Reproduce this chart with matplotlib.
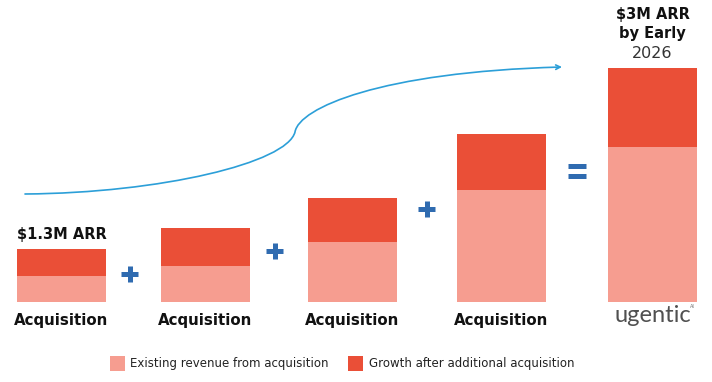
import matplotlib
matplotlib.use("Agg")
import matplotlib.pyplot as plt
from matplotlib.path import Path
from matplotlib.patches import FancyArrowPatch, Rectangle

# ── data ($M, last bar = $3M) ───────────────────────────────────────
stages   = ["Acquisition", "Acquisition", "Acquisition", "Acquisition", "ugentic"]
existing = [0.33, 0.46, 0.77, 1.44, 1.99]
growth   = [0.35, 0.49, 0.56, 0.71, 1.01]
top_notes = ["$1.3M ARR", "", "", "", "$3M ARR\nby Early"]
legend_labels = ["Existing revenue from acquisition",
                 "Growth after additional acquisition"]

# ── layout (pixels, origin top-left) ───────────────────────────────
W, H     = 712, 382
BASE_PX  = 302          # bar bottom
PX_PER_M = 78.0
bar_x    = [61.5, 205.5, 352, 501, 652.5]
bar_w    = 89
plus_xy  = [(129.5, 273.5), (274.5, 250.5), (426.5, 209)]
eq_xy    = (577, 170.5)

LIGHT = "#F69D90"
DARK  = "#EA4F37"
BLUE  = "#2F6BB0"
CURVE = "#2C9FD8"
TXT   = "#111111"

fig = plt.figure(figsize=(W / 100, H / 100), dpi=100)
fig.patch.set_facecolor("white")

# bars axes: x in pixels, y in $M
ax = fig.add_axes([0, 0, 1, 1])
ax.set_xlim(0, W)
ax.set_ylim(-(H - BASE_PX) / PX_PER_M, BASE_PX / PX_PER_M)
ax.axis("off")

ax.bar(bar_x, existing, width=bar_w, color=LIGHT, linewidth=0)
ax.bar(bar_x, growth, width=bar_w, bottom=existing, color=DARK, linewidth=0)

# overlay axes in pixel coords for the annotations
ov = fig.add_axes([0, 0, 1, 1], facecolor="none")
ov.set_xlim(0, W)
ov.set_ylim(H, 0)
ov.axis("off")

bold = dict(fontfamily="DejaVu Sans", fontweight="bold", color=TXT)

for i, lab in enumerate(stages[:-1]):
    ov.text(bar_x[i], 320, lab, ha="center", va="center", fontsize=10.8, **bold)

ov.text(bar_x[0], 234, top_notes[0], ha="center", va="center", fontsize=10.5, **bold)
ov.text(bar_x[4], 24, top_notes[4], ha="center", va="center", fontsize=10.5,
        linespacing=1.35, **bold)
ov.text(bar_x[4], 54, "2026", ha="center", va="center", fontsize=11.5,
        fontfamily="DejaVu Sans", color="#333333")

# logo text under last bar
ov.text(bar_x[4], 316, stages[4], ha="center", va="center", fontsize=17,
        fontfamily="Lato", fontweight="normal", color="#505050")
ov.text(692, 306, "AI", ha="center", va="center", fontsize=3.5, color="#777777")

# plus / equals signs
for x, y in plus_xy:
    ov.plot([x - 8.5, x + 8.5], [y, y], color=BLUE, lw=3.6, solid_capstyle="butt")
    ov.plot([x, x], [y - 8, y + 8], color=BLUE, lw=3.6, solid_capstyle="butt")
ex, ey = eq_xy
for dy in (-5, 5):
    ov.plot([ex - 9, ex + 9], [ey + dy, ey + dy], color=BLUE, lw=3.6,
            solid_capstyle="butt")

# growth curve
verts = [(25, 194), (160, 193), (287, 163), (295, 132),
         (299, 108), (380, 72), (562, 67)]
codes = [Path.MOVETO] + [Path.CURVE4] * 6
arrow = FancyArrowPatch(path=Path(verts, codes), arrowstyle="->",
                        mutation_scale=8, color=CURVE, lw=1.2)
ov.add_patch(arrow)

# legend
leg_font = dict(fontfamily="DejaVu Sans", fontsize=8.5, color="#222222",
                va="center", ha="left")
ov.add_patch(Rectangle((110, 356), 15, 15, color=LIGHT, lw=0))
ov.text(130, 363.5, legend_labels[0], **leg_font)
ov.add_patch(Rectangle((348, 356), 15, 15, color=DARK, lw=0))
ov.text(369, 363.5, legend_labels[1], **leg_font)

fig.savefig("out.png", dpi=100, facecolor="white")
